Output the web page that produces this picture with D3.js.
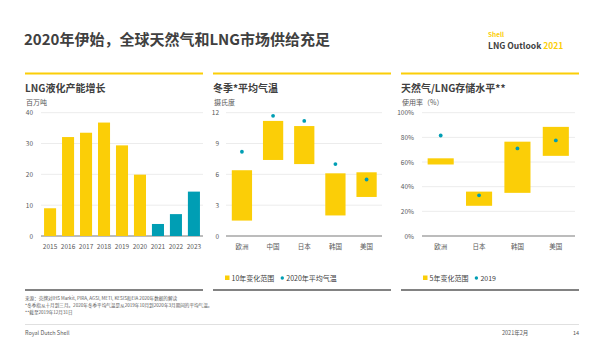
<!DOCTYPE html>
<html>
<head>
<meta charset="utf-8">
<script src="https://cdn.jsdelivr.net/npm/d3@7"></script>
<style>
  body { margin: 0; background: #fff; }
  svg text { font-family: "Noto Sans CJK SC", "Noto Sans", sans-serif; fill: #404040; }
</style>
</head>
<body>
<svg id="chart" width="600" height="337"></svg>
<script>
// panel 1 - LNG liquefaction capacity growth
var years = ["2015", "2016", "2017", "2018", "2019", "2020", "2021", "2022", "2023"];
var capacity = [9, 32.1, 33.5, 36.8, 29.4, 19.9, 3.9, 7.1, 14.4];
var capTicks = [0, 10, 20, 30, 40];

// panel 2 - winter average temperature
var tempRegions = ["欧洲", "中国", "日本", "韩国", "美国"];
var tempLow = [1.5, 7.4, 7.0, 2.0, 3.8];
var tempHigh = [6.4, 11.2, 10.7, 6.1, 6.2];
var temp2020 = [8.2, 11.7, 11.2, 7.0, 5.5];
var tempTicks = [0, 3, 6, 9, 12];

// panel 3 - gas / LNG storage levels
var storRegions = ["欧洲", "日本", "韩国", "美国"];
var storLow = [58, 24.5, 35, 65];
var storHigh = [63, 36, 76.5, 88.5];
var stor2019 = [81.5, 33, 71, 77.5];
var storTicks = [0, 20, 40, 60, 80, 100];

var yellow = "#fbce07";
var teal = "#009eb4";

var svg = d3.select("#chart");

// header
svg.append("text").attr("x", 24).attr("y", 45)
    .style("font-size", "15px").style("font-weight", "bold")
    .text("2020年伊始，全球天然气和LNG市场供给充足");
svg.append("text").attr("x", 488).attr("y", 37)
    .style("font-size", "6.5px").style("font-weight", "bold").style("fill", yellow)
    .text("Shell");
svg.append("text").attr("x", 488).attr("y", 48.5)
    .style("font-size", "8.5px").style("font-weight", "bold")
    .text("LNG Outlook ")
    .append("tspan").style("fill", yellow).text("2021");

var plotTop = 112.7, plotBottom = 236;

function panel(x0, x1, title, unit) {
    svg.append("line").attr("x1", x0).attr("x2", x1).attr("y1", 73.5).attr("y2", 73.5)
        .attr("stroke", yellow).attr("stroke-width", 2.2);
    svg.append("text").attr("x", x0).attr("y", 91.5)
        .style("font-size", "10px").style("font-weight", "bold").text(title);
    svg.append("text").attr("x", x0 + 1).attr("y", 105)
        .style("font-size", "7px").style("fill", "#595959").text(unit);
    svg.append("line").attr("x1", x0).attr("x2", x1).attr("y1", 290).attr("y2", 290)
        .attr("stroke", "#595959").attr("stroke-width", 1.3);
}

function yAxis(y, ticks, gx0, gx1, labelX, fmt) {
    var g = svg.append("g");
    g.selectAll("line").data(ticks).enter().append("line")
        .attr("x1", gx0).attr("x2", gx1)
        .attr("y1", function (d) { return y(d); })
        .attr("y2", function (d) { return y(d); })
        .attr("stroke", function (d) { return d === 0 ? "#a6a6a6" : "#ececec"; })
        .attr("stroke-width", function (d) { return d === 0 ? 1.3 : 1; });
    g.selectAll("text").data(ticks).enter().append("text")
        .attr("x", labelX).attr("y", function (d) { return y(d) + 2.5; })
        .attr("text-anchor", "end")
        .style("font-size", "6.5px").style("fill", "#595959")
        .text(fmt);
}

function xLabels(x, cats, yPos) {
    svg.append("g").selectAll("text").data(cats).enter().append("text")
        .attr("x", function (d) { return x(d) + x.bandwidth() / 2; })
        .attr("y", yPos).attr("text-anchor", "middle")
        .style("font-size", "6.5px").style("fill", "#595959")
        .text(function (d) { return d; });
}

function legend(x0, label1, label2) {
    svg.append("rect").attr("x", x0).attr("y", 275.5).attr("width", 4.5).attr("height", 4.5).attr("fill", yellow);
    var t1 = svg.append("text").attr("x", x0 + 6.5).attr("y", 280.5)
        .style("font-size", "7px").text(label1);
    var w = t1.node().getComputedTextLength();
    svg.append("circle").attr("cx", x0 + 6.5 + w + 8).attr("cy", 278).attr("r", 1.7).attr("fill", teal);
    svg.append("text").attr("x", x0 + 6.5 + w + 12).attr("y", 280.5)
        .style("font-size", "7px").text(label2);
}

// ---- panel 1
panel(25, 203, "LNG液化产能增长", "百万吨");
var x1 = d3.scaleBand().domain(years).range([41, 203]).paddingInner(0.33).paddingOuter(0.17);
var y1 = d3.scaleLinear().domain([0, 40]).range([plotBottom, plotTop]);
yAxis(y1, capTicks, 41, 203, 33, function (d) { return d; });
svg.append("g").selectAll("rect").data(years).enter().append("rect")
    .attr("x", function (d) { return x1(d); })
    .attr("width", x1.bandwidth())
    .attr("y", function (d, i) { return y1(capacity[i]); })
    .attr("height", function (d, i) { return plotBottom - y1(capacity[i]); })
    .attr("fill", function (d) { return +d > 2020 ? teal : yellow; });
xLabels(x1, years, 249);

// ---- panel 2
panel(213, 391, "冬季*平均气温", "摄氏度");
var x2 = d3.scaleBand().domain(tempRegions).range([226.5, 382]).paddingInner(0.35).paddingOuter(0.17);
var y2 = d3.scaleLinear().domain([0, 12]).range([plotBottom, plotTop]);
yAxis(y2, tempTicks, 226, 382, 219, function (d) { return d; });
svg.append("g").selectAll("rect").data(tempRegions).enter().append("rect")
    .attr("x", function (d) { return x2(d); })
    .attr("width", x2.bandwidth())
    .attr("y", function (d, i) { return y2(tempHigh[i]); })
    .attr("height", function (d, i) { return y2(tempLow[i]) - y2(tempHigh[i]); })
    .attr("fill", yellow);
svg.append("g").selectAll("circle").data(tempRegions).enter().append("circle")
    .attr("cx", function (d) { return x2(d) + x2.bandwidth() / 2; })
    .attr("cy", function (d, i) { return y2(temp2020[i]); })
    .attr("r", 1.9).attr("fill", teal);
xLabels(x2, tempRegions, 249);
legend(225, "10年变化范围", "2020年平均气温");

// ---- panel 3
panel(401, 579, "天然气/LNG存储水平**", "使用率（%）");
var x3 = d3.scaleBand().domain(storRegions).range([421.5, 575]).paddingInner(0.32).paddingOuter(0.16);
var y3 = d3.scaleLinear().domain([0, 100]).range([plotBottom, plotTop]);
yAxis(y3, storTicks, 422, 575, 414, function (d) { return d + "%"; });
svg.append("g").selectAll("rect").data(storRegions).enter().append("rect")
    .attr("x", function (d) { return x3(d); })
    .attr("width", x3.bandwidth())
    .attr("y", function (d, i) { return y3(storHigh[i]); })
    .attr("height", function (d, i) { return y3(storLow[i]) - y3(storHigh[i]); })
    .attr("fill", yellow);
svg.append("g").selectAll("circle").data(storRegions).enter().append("circle")
    .attr("cx", function (d) { return x3(d) + x3.bandwidth() / 2; })
    .attr("cy", function (d, i) { return y3(stor2019[i]); })
    .attr("r", 1.9).attr("fill", teal);
xLabels(x3, storRegions, 249);
legend(423, "5年变化范围", "2019");

// footnotes
var notes = [
    "来源：壳牌对IHS Markit, PIRA, AGSI, METI, KESIS和EIA 2020年数据的解读",
    "*冬季指从十月到三月。2020年冬季平均气温是从2019年10月到2020年3月期间的平均气温。",
    "**截至2019年12月31日"
];
svg.append("g").selectAll("text").data(notes).enter().append("text")
    .attr("x", 25).attr("y", function (d, i) { return 300 + i * 7; })
    .style("font-size", "4.6px").style("fill", "#595959")
    .text(function (d) { return d; });
svg.append("line").attr("x1", 25).attr("x2", 579).attr("y1", 324.5).attr("y2", 324.5)
    .attr("stroke", "#e0e0e0").attr("stroke-width", 1);
svg.append("text").attr("x", 25).attr("y", 335)
    .style("font-size", "5.5px").style("fill", "#595959").text("Royal Dutch Shell");
svg.append("text").attr("x", 502).attr("y", 335)
    .style("font-size", "5.5px").style("fill", "#595959").text("2021年2月");
svg.append("text").attr("x", 579).attr("y", 335).attr("text-anchor", "end")
    .style("font-size", "5.5px").style("fill", "#595959").text("14");
</script>
</body>
</html>
